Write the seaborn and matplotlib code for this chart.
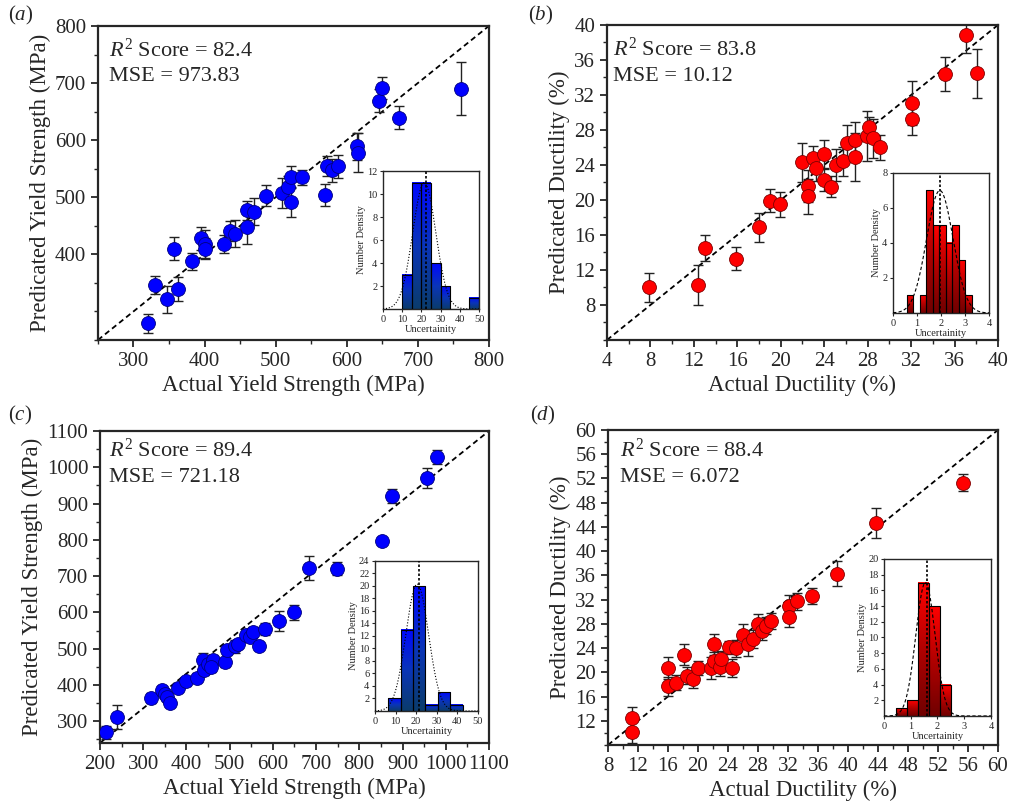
import numpy as np
import pandas as pd
import matplotlib
matplotlib.use('Agg')
import matplotlib.pyplot as plt
from matplotlib.colors import LinearSegmentedColormap
from matplotlib.ticker import MultipleLocator
import seaborn as sns

# ---- (a) yield strength ----
a_actual = [321, 330, 347, 357, 363, 382, 395, 401, 400, 427, 436, 443, 459, 459, 469, 486,
            509, 518, 521, 521, 537, 569, 572, 579, 587, 614, 616, 646, 649, 673, 760]
a_pred = [279, 346, 321, 410, 339, 388, 428, 418, 410, 418, 441, 436, 448, 477, 475, 503,
          507, 518, 536, 491, 535, 504, 555, 547, 554, 589, 578, 669, 691, 639, 690]
a_err = [17, 16, 23, 20, 21, 15, 20, 25, 18, 15, 18, 24, 30, 16, 24, 19,
         26, 20, 18, 25, 13, 19, 18, 20, 20, 24, 34, 20, 19, 20, 46]

# ---- (b) ductility ----
b_actual = [7.9, 12.35, 13.0, 15.9, 18.0, 19.0, 19.9, 22.0, 22.5, 22.5, 23.0, 23.2, 24.0, 24.0,
            24.6, 25.1, 25.7, 26.1, 26.8, 26.8, 27.9, 28.1, 28.5, 29.1, 32.1, 32.1, 35.1, 37.1, 38.1]
b_pred = [10.0, 10.3, 14.55, 13.3, 16.9, 19.9, 19.5, 24.3, 21.6, 20.4, 24.8, 23.7, 25.3, 22.3,
          21.5, 24.0, 24.4, 26.5, 26.8, 24.9, 27.3, 28.3, 27.05, 26.0, 31.05, 29.2, 34.4, 38.8, 34.5]
b_err = [1.7, 2.3, 1.5, 1.3, 1.65, 1.3, 1.4, 2.2, 1.8, 2.0, 1.4, 1.5, 1.6, 1.25,
         1.2, 1.8, 1.7, 2.1, 2.1, 2.7, 2.9, 1.2, 2.2, 1.4, 2.5, 1.8, 1.9, 2.0, 2.8]

# ---- (c) yield strength ----
c_actual = [214, 239, 318, 343, 350, 354, 362, 381, 399, 425, 439, 441, 451, 462, 458, 489,
            493, 512, 520, 539, 547, 555, 569, 582, 614, 649, 684, 749, 852, 876, 957, 980]
c_pred = [270, 312, 365, 386, 376, 368, 350, 392, 410, 420, 470, 442, 458, 468, 450, 462,
          497, 506, 513, 538, 531, 545, 507, 554, 577, 600, 722, 720, 798, 921, 970, 1028]
c_err = [18, 34, 14, 12, 12, 12, 12, 12, 12, 12, 18, 14, 18, 14, 14, 12,
         14, 18, 12, 16, 12, 14, 12, 16, 28, 20, 32, 18, 8, 20, 27, 20]

# ---- (d) ductility ----
d_actual = [11.16, 11.16, 16.0, 16.0, 17.07, 18.1, 18.5, 19.3, 20.0, 21.8, 22.1, 22.2, 22.9,
            23.1, 24.1, 24.6, 25.1, 26.0, 26.7, 27.3, 28.0, 28.6, 29.1, 29.8, 32.1, 32.1, 33.2,
            35.2, 38.5, 43.7, 55.3]
d_pred = [12.5, 10.2, 20.7, 17.7, 18.3, 22.9, 19.4, 18.9, 20.7, 20.7, 24.6, 21.9, 20.85,
          22.2, 24.1, 20.7, 24.0, 26.2, 24.6, 25.5, 27.9, 26.8, 27.7, 28.5, 31.0, 29.1, 31.7,
          32.6, 36.3, 44.65, 51.3]
d_err = [1.7, 1.8, 1.8, 1.6, 1.3, 1.7, 1.4, 1.5, 1.2, 1.8, 1.8, 1.5, 1.5,
         1.3, 1.0, 1.5, 1.4, 1.8, 1.9, 1.5, 1.7, 1.4, 1.4, 1.3, 1.7, 1.7, 1.4,
         1.3, 2.1, 2.4, 1.4]

# ---- uncertainty histograms (insets) ----
a_hist_start, a_hist_width = 10, 5
a_hist_counts = [3, 11, 11, 4, 2, 0, 0, 1]
b_hist_start, b_hist_width = 0.57, 0.27
b_hist_counts = [1, 0, 1, 7, 5, 5, 4, 5, 3, 1]
c_hist_start, c_hist_width = 6.5, 6.0
c_hist_counts = [2, 13, 20, 1, 3, 1]
d_hist_start, d_hist_width = 0.46, 0.41
d_hist_counts = [1, 2, 17, 14, 4]
# mean line, fitted normal (peak, mu, sd)
a_mean, a_fit = 22.3, (11, 21.5, 6.0)
b_mean, b_fit = 1.95, (7, 1.95, 0.55)
c_mean, c_fit = 21.2, (20.3, 20.5, 5.5)
d_mean, d_fit = 1.62, (17, 1.55, 0.36)

sns.set_style('ticks')
plt.rcParams['font.family'] = ['Liberation Serif', 'DejaVu Serif']
plt.rcParams['mathtext.fontset'] = 'custom'
plt.rcParams['mathtext.rm'] = 'Liberation Serif'
plt.rcParams['mathtext.it'] = 'Liberation Serif:italic'
plt.rcParams['axes.linewidth'] = 1.6

# per-bar vertical gradient: dark at the base, bright at the top
blue_cmap = LinearSegmentedColormap.from_list('bl', ['#0b3c6c', '#0a35b8', '#0008ff'])
red_cmap = LinearSegmentedColormap.from_list('rd', ['#700000', '#b00000', '#ff0000'])

fig = plt.figure(figsize=(10.14, 8.06), dpi=100)


def main_panel(rect, actual, pred, err, color, edge, lims, ylims, major, minor,
               xlabel, ylabel, r2, mse, txt_pos, ytick_hide):
    ax = fig.add_axes(rect)
    df = pd.DataFrame({'actual': actual, 'pred': pred, 'err': err})
    ax.errorbar(df['actual'], df['pred'], yerr=df['err'], fmt='none', ecolor='#222222',
                elinewidth=1.0, capsize=3.5, capthick=1.0, zorder=2)
    sns.scatterplot(data=df, x='actual', y='pred', ax=ax, color=color, s=100,
                    edgecolor=edge, linewidth=0.6, zorder=3, legend=False)
    ax.plot([0, 1], [0, 1], transform=ax.transAxes, color='black', lw=1.3,
            ls=(0, (3, 2)), zorder=1)
    ax.xaxis.set_major_locator(MultipleLocator(major))
    ax.yaxis.set_major_locator(MultipleLocator(major))
    ax.xaxis.set_minor_locator(MultipleLocator(minor))
    ax.yaxis.set_minor_locator(MultipleLocator(minor))
    ax.set_xlim(*lims)
    ax.set_ylim(*ylims)
    yt = [t for t in ax.get_yticks() if ylims[0] <= t <= ylims[1] and t > ytick_hide]
    ax.set_yticks(yt)
    ax.set_ylim(*ylims)
    ax.tick_params(which='major', direction='out', length=5, width=1.3, labelsize=15)
    ax.tick_params(which='minor', direction='out', length=3, width=1.0)
    for s in ax.spines.values():
        s.set_linewidth(1.6)
    ax.set_xlabel(xlabel, fontsize=16.5, labelpad=3)
    ax.set_ylabel(ylabel, fontsize=16.5, labelpad=3)
    ax.text(txt_pos[0], txt_pos[1], r'$R^2$ Score = ' + r2, transform=ax.transAxes,
            fontsize=16, va='center', ha='left')
    ax.text(txt_pos[0], txt_pos[2], 'MSE = ' + mse, transform=ax.transAxes,
            fontsize=16, va='center', ha='left')
    return ax


def inset_hist(rect, start, width, counts, cmap, mean, fit, xlim, ylim, xstep, ystep, gstyle):
    ax = fig.add_axes(rect)
    edges = start + width * np.arange(len(counts))
    bars = ax.bar(edges, counts, width=width, align='edge', facecolor='none',
                  edgecolor='black', linewidth=0.8, zorder=3)
    grad = np.linspace(0, 1, 100).reshape(-1, 1)
    for b in bars:
        h = b.get_height()
        if h <= 0:
            continue
        ax.imshow(grad, extent=[b.get_x(), b.get_x() + b.get_width(), 0, h],
                  origin='lower', cmap=cmap, vmin=0, vmax=1, aspect='auto', zorder=2)
    peak, mu, sd = fit
    xs = np.linspace(xlim[0], xlim[1], 300)
    ax.plot(xs, peak * np.exp(-0.5 * ((xs - mu) / sd) ** 2), color='black', lw=0.8,
            ls=gstyle, zorder=4)
    ax.axvline(mean, color='black', lw=1.2, ls=(0, (1.5, 1.2)), zorder=5)
    ax.set_xlim(*xlim)
    ax.set_ylim(*ylim)
    ax.set_xticks(np.arange(xlim[0], xlim[1] + xstep / 2, xstep))
    ax.set_yticks(np.arange(ystep, ylim[1] + ystep / 2, ystep))
    ax.tick_params(labelsize=7.5, length=2.5, width=0.8, pad=1.5)
    for s in ax.spines.values():
        s.set_linewidth(1.0)
    ax.set_xlabel('Uncertainity', fontsize=7.5, labelpad=1)
    ax.set_ylabel('Number Density', fontsize=7.5, labelpad=1)
    ax.set_facecolor('white')
    return ax


main_panel([0.0966, 0.5782, 0.3856, 0.3896], a_actual, a_pred, a_err, '#0000ff', '#000080',
           (250, 800), (250, 800), 100, 50, 'Actual Yield Strength (MPa)',
           'Predicated Yield Strength (MPa)', '82.4', '973.83', (0.028, 0.924, 0.839), 350)
main_panel([0.5986, 0.5782, 0.3856, 0.3908], b_actual, b_pred, b_err, '#ff0000', '#800000',
           (4, 40), (4, 40), 4, 2, 'Actual Ductility (%)', 'Predicated Ductility (%)',
           '83.8', '10.12', (0.016, 0.924, 0.835), 4)
main_panel([0.0986, 0.0782, 0.3836, 0.3871], c_actual, c_pred, c_err, '#0000ff', '#000080',
           (200, 1100), (240, 1100), 100, 50, 'Actual Yield Strength (MPa)',
           'Predicated Yield Strength (MPa)', '89.4', '721.18', (0.024, 0.939, 0.85), 200)
main_panel([0.5996, 0.0757, 0.3846, 0.3908], d_actual, d_pred, d_err, '#ff0000', '#800000',
           (8, 60), (8, 60), 4, 2, 'Actual Ductility (%)', 'Predicated Ductility (%)',
           '88.4', '6.072', (0.031, 0.937, 0.848), 8)

inset_hist([0.3777, 0.6166, 0.0947, 0.1712], a_hist_start, a_hist_width, a_hist_counts,
           blue_cmap, a_mean, a_fit, (0, 50), (0, 12), 10, 2, ':')
inset_hist([0.8807, 0.6117, 0.0947, 0.1737], b_hist_start, b_hist_width, b_hist_counts,
           red_cmap, b_mean, b_fit, (0, 4), (0, 8), 1, 2, (0, (3, 2)))
inset_hist([0.3698, 0.1179, 0.1016, 0.1861], c_hist_start, c_hist_width, c_hist_counts,
           blue_cmap, c_mean, c_fit, (0, 50), (0, 24), 10, 2, ':')
inset_hist([0.8718, 0.1117, 0.1055, 0.1948], d_hist_start, d_hist_width, d_hist_counts,
           red_cmap, d_mean, d_fit, (0, 4), (0, 20), 1, 2, (0, (3, 2)))

for lab, x, y in [('a', 0.008, 0.981), ('b', 0.521, 0.981), ('c', 0.008, 0.484), ('d', 0.523, 0.484)]:
    fig.text(x, y, '(' + r'$' + lab + r'$' + ')', fontsize=15, va='center', ha='left')

fig.savefig('out.png', dpi=100)
